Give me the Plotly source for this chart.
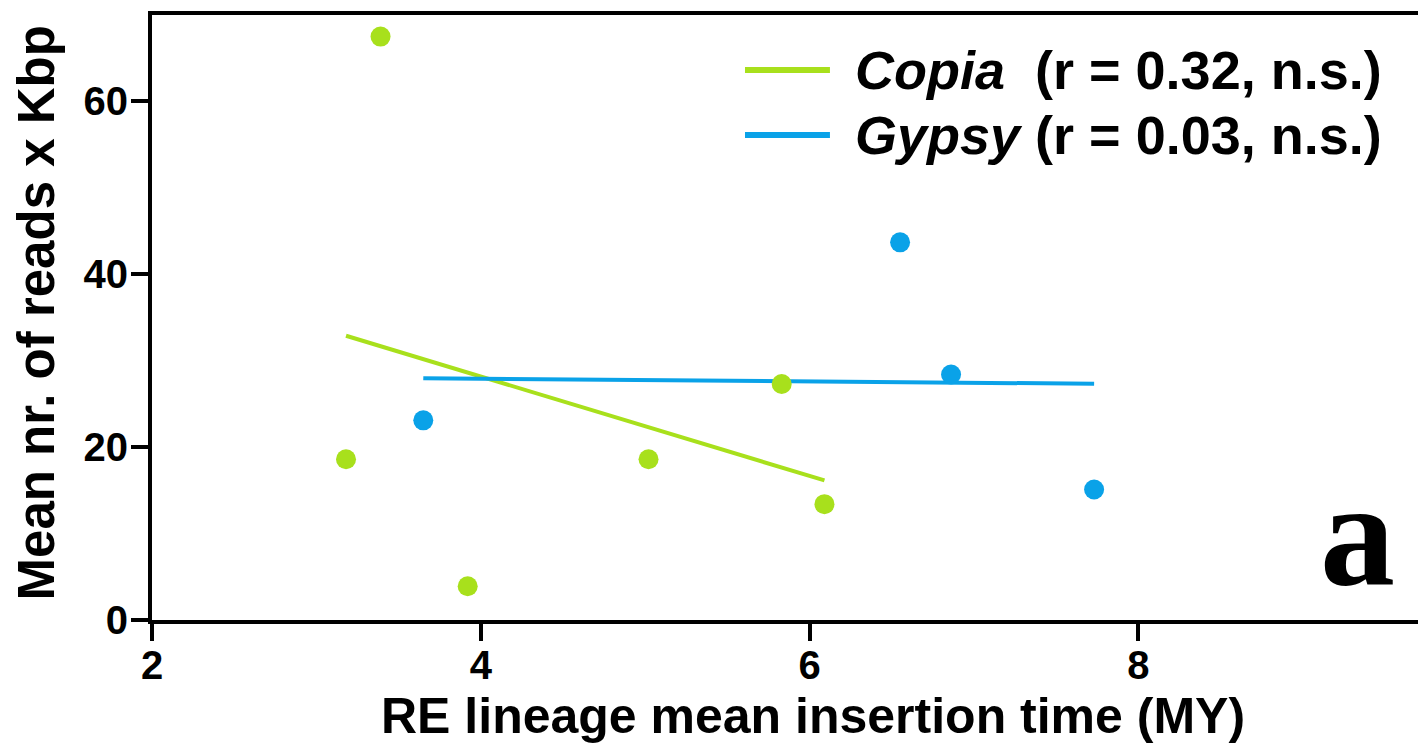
import numpy as np
import plotly.graph_objects as go

# Data
copia_x = [3.18, 3.39, 3.92, 5.02, 5.83, 6.09]
copia_y = [18.6, 67.5, 3.9, 18.6, 27.3, 13.4]
gypsy_x = [3.65, 6.55, 6.86, 7.73]
gypsy_y = [23.1, 43.7, 28.4, 15.1]

x_ticks = [2, 4, 6, 8]
y_ticks = [0, 20, 40, 60]

legend_labels = ["<i>Copia</i>\u00a0\u00a0(r = 0.32, n.s.)", "<i>Gypsy</i> (r = 0.03, n.s.)"]
x_title = "RE lineage mean insertion time (MY)"
y_title = "Mean nr. of reads x Kbp"

GREEN = "#A8E01C"
BLUE = "#0AA2E8"
FONT = "Liberation Sans, Arial, sans-serif"

fig = go.Figure()

def fit_line(xs, ys):
    xs = np.asarray(xs, float)
    ys = np.asarray(ys, float)
    m, b = np.polyfit(xs, ys, 1)
    xl = np.array([xs.min(), xs.max()])
    return xl, m * xl + b

for xs, ys, col in [(copia_x, copia_y, GREEN), (gypsy_x, gypsy_y, BLUE)]:
    xl, yl = fit_line(xs, ys)
    fig.add_trace(go.Scatter(x=xl, y=yl, mode="lines",
                             line=dict(color=col, width=4), showlegend=False,
                             hoverinfo="skip"))

fig.add_trace(go.Scatter(x=copia_x, y=copia_y, mode="markers",
                         marker=dict(color=GREEN, size=20), showlegend=False))
fig.add_trace(go.Scatter(x=gypsy_x, y=gypsy_y, mode="markers",
                         marker=dict(color=BLUE, size=20), showlegend=False))

# manual legend
leg_rows = [(0.909, GREEN, legend_labels[0]), (0.8017, BLUE, legend_labels[1])]
for ypos, col, lab in leg_rows:
    fig.add_shape(type="line", xref="paper", yref="paper",
                  x0=0.4684, x1=0.5355, y0=ypos, y1=ypos,
                  line=dict(color=col, width=6))
    fig.add_annotation(xref="paper", yref="paper", x=0.5535, y=ypos,
                       xanchor="left", yanchor="middle", text=lab, showarrow=False,
                       font=dict(family=FONT, size=54, color="black", weight="bold"))

fig.add_annotation(xref="paper", yref="paper", x=0.952, y=0.0,
                   xanchor="center", yanchor="bottom", yshift=2, text="a", showarrow=False,
                   font=dict(family="Liberation Serif, Times New Roman, serif", size=150,
                             color="black", weight="bold"))

# axis titles
fig.add_annotation(xref="paper", yref="paper", x=0.522, y=-0.1587,
                   xanchor="center", yanchor="middle", text=x_title, showarrow=False,
                   font=dict(family=FONT, size=50, color="black", weight="bold"))
fig.add_annotation(xref="paper", yref="paper", x=-0.091, y=0.508,
                   xanchor="center", yanchor="middle", text=y_title, showarrow=False,
                   textangle=-90,
                   font=dict(family=FONT, size=51, color="black", weight="bold"))

fig.update_layout(
    width=1418, height=745,
    margin=dict(l=152, r=0, t=15, b=125),
    plot_bgcolor="white", paper_bgcolor="white",
    font=dict(family=FONT, color="black", weight="bold"),
    xaxis=dict(range=[2, 9.7], tickvals=x_ticks, ticks="outside", ticklen=17,
               tickwidth=4, tickcolor="black", showline=True, linewidth=4,
               linecolor="black", mirror=True, showgrid=False, zeroline=False,
               ticklabelstandoff=-10,
               tickfont=dict(size=40, family=FONT, weight="bold")),
    yaxis=dict(range=[0, 70], tickvals=y_ticks, ticks="outside", ticklen=17,
               tickwidth=4, tickcolor="black", showline=True, linewidth=4,
               linecolor="black", showgrid=False, zeroline=False,
               ticklabelstandoff=-5,
               tickfont=dict(size=40, family=FONT, weight="bold")),
)

fig.write_html("out.html")
